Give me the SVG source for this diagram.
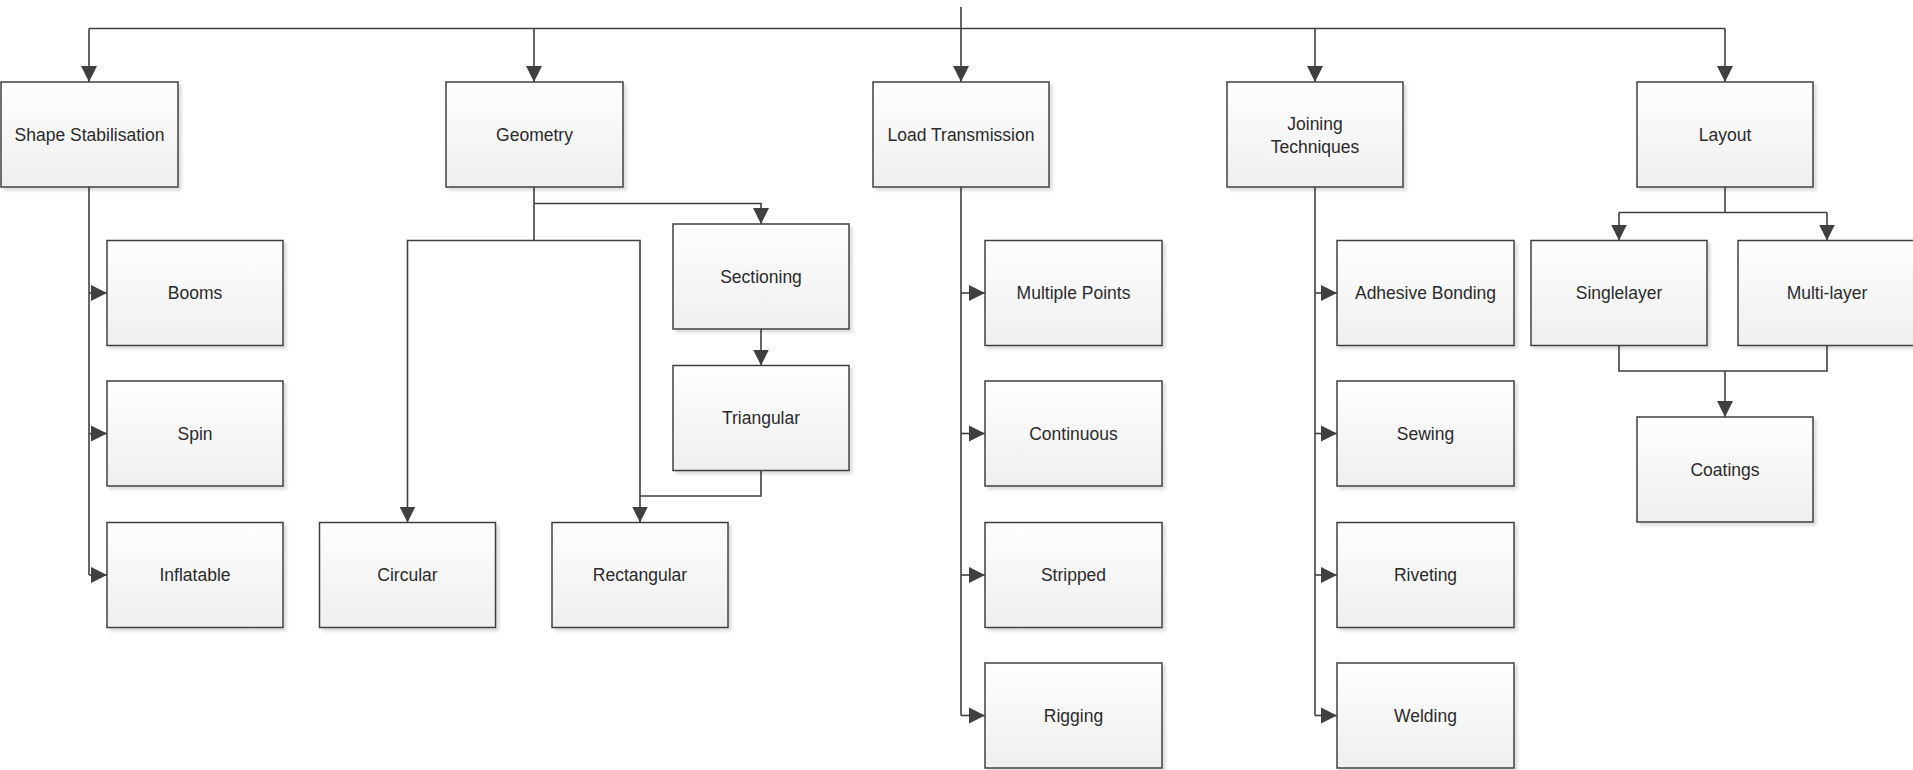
<svg xmlns="http://www.w3.org/2000/svg" width="1913" height="770" viewBox="0 0 1913 770">
<style>
.box rect{fill:url(#g);stroke:#404040;stroke-width:1.5;filter:url(#sh)}
.box text{font-family:"Liberation Sans",Arial,sans-serif;font-size:17.5px;fill:#2b2b2b;text-anchor:middle}
#connectors path{fill:none;stroke:#404040;stroke-width:1.6}
.a{marker-end:url(#arr)}
</style>
<defs>
<linearGradient id="g" x1="0" y1="0" x2="0" y2="1">
<stop offset="0" stop-color="#fefefe"/>
<stop offset="1" stop-color="#efefef"/>
</linearGradient>
<filter id="sh" x="-10%" y="-10%" width="125%" height="125%">
<feDropShadow dx="3" dy="3" stdDeviation="1.5" flood-color="#000" flood-opacity="0.13"/>
</filter>
<marker id="arr" markerUnits="userSpaceOnUse" markerWidth="17" markerHeight="18" viewBox="0 0 17 18" refX="16" refY="9" orient="auto">
<path d="M0 1 L16 9 L0 17 Z" fill="#404040"/>
</marker>
</defs>
<rect width="1913" height="770" fill="#fff"/>
<g id="connectors">
<path d="M961 7 V28.5"/>
<path d="M89 28.5 H1725"/>
<path class="a" d="M89 28.5 V82"/>
<path class="a" d="M534 28.5 V82"/>
<path class="a" d="M961 28.5 V82"/>
<path class="a" d="M1315 28.5 V82"/>
<path class="a" d="M1725 28.5 V82"/>
<path d="M89 187 V575"/>
<path class="a" d="M89 293 H107"/>
<path class="a" d="M89 433.5 H107"/>
<path class="a" d="M89 575 H107"/>
<path d="M534 187 V240.5"/>
<path class="a" d="M534 203.5 H761 V224"/>
<path class="a" d="M534 240.5 H407.5 V522.5"/>
<path class="a" d="M534 240.5 H640 V522.5"/>
<path class="a" d="M761 329 V365.5"/>
<path d="M761 470.5 V496 H640"/>
<path d="M961 187 V715.5"/>
<path class="a" d="M961 293 H985"/>
<path class="a" d="M961 433.5 H985"/>
<path class="a" d="M961 575 H985"/>
<path class="a" d="M961 715.5 H985"/>
<path d="M1315 187 V715.5"/>
<path class="a" d="M1315 293 H1337"/>
<path class="a" d="M1315 433.5 H1337"/>
<path class="a" d="M1315 575 H1337"/>
<path class="a" d="M1315 715.5 H1337"/>
<path d="M1725 187 V212.5"/>
<path d="M1619 212.5 H1827"/>
<path class="a" d="M1619 212.5 V240.5"/>
<path class="a" d="M1827 212.5 V240.5"/>
<path d="M1619 345.5 V371 H1827 V345.5"/>
<path class="a" d="M1725 371 V417"/>
</g>
<g id="shape-stabilisation" class="box"><rect x="1" y="82" width="177" height="105"/><text x="89.5" y="140.5">Shape Stabilisation</text></g>
<g id="geometry" class="box"><rect x="446" y="82" width="177" height="105"/><text x="534.5" y="140.5">Geometry</text></g>
<g id="load-transmission" class="box"><rect x="873" y="82" width="176" height="105"/><text x="961" y="140.5">Load Transmission</text></g>
<g id="joining-techniques" class="box"><rect x="1227" y="82" width="176" height="105"/><text x="1315" y="129.5">Joining</text><text x="1315" y="152.5">Techniques</text></g>
<g id="layout" class="box"><rect x="1637" y="82" width="176" height="105"/><text x="1725" y="140.5">Layout</text></g>
<g id="booms" class="box"><rect x="107" y="240.5" width="176" height="105"/><text x="195" y="299">Booms</text></g>
<g id="spin" class="box"><rect x="107" y="381" width="176" height="105"/><text x="195" y="439.5">Spin</text></g>
<g id="inflatable" class="box"><rect x="107" y="522.5" width="176" height="105"/><text x="195" y="581">Inflatable</text></g>
<g id="circular" class="box"><rect x="319.5" y="522.5" width="176" height="105"/><text x="407.5" y="581">Circular</text></g>
<g id="rectangular" class="box"><rect x="552" y="522.5" width="176" height="105"/><text x="640" y="581">Rectangular</text></g>
<g id="sectioning" class="box"><rect x="673" y="224" width="176" height="105"/><text x="761" y="282.5">Sectioning</text></g>
<g id="triangular" class="box"><rect x="673" y="365.5" width="176" height="105"/><text x="761" y="424">Triangular</text></g>
<g id="multiple-points" class="box"><rect x="985" y="240.5" width="177" height="105"/><text x="1073.5" y="299">Multiple Points</text></g>
<g id="continuous" class="box"><rect x="985" y="381" width="177" height="105"/><text x="1073.5" y="439.5">Continuous</text></g>
<g id="stripped" class="box"><rect x="985" y="522.5" width="177" height="105"/><text x="1073.5" y="581">Stripped</text></g>
<g id="rigging" class="box"><rect x="985" y="663" width="177" height="105"/><text x="1073.5" y="721.5">Rigging</text></g>
<g id="adhesive-bonding" class="box"><rect x="1337" y="240.5" width="177" height="105"/><text x="1425.5" y="299">Adhesive Bonding</text></g>
<g id="sewing" class="box"><rect x="1337" y="381" width="177" height="105"/><text x="1425.5" y="439.5">Sewing</text></g>
<g id="riveting" class="box"><rect x="1337" y="522.5" width="177" height="105"/><text x="1425.5" y="581">Riveting</text></g>
<g id="welding" class="box"><rect x="1337" y="663" width="177" height="105"/><text x="1425.5" y="721.5">Welding</text></g>
<g id="singlelayer" class="box"><rect x="1531" y="240.5" width="176" height="105"/><text x="1619" y="299">Singlelayer</text></g>
<g id="multi-layer" class="box"><rect x="1738" y="240.5" width="178" height="105"/><text x="1827" y="299">Multi-layer</text></g>
<g id="coatings" class="box"><rect x="1637" y="417" width="176" height="105"/><text x="1725" y="475.5">Coatings</text></g>
</svg>
